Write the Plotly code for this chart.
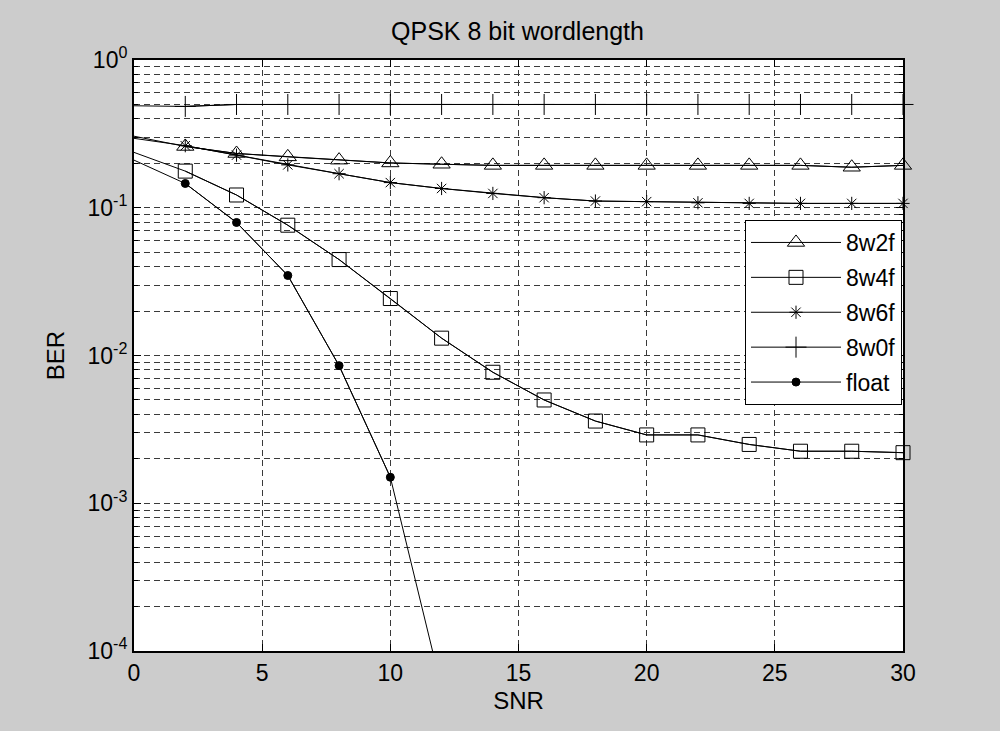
import plotly.graph_objects as go

snr = [0, 2, 4, 6, 8, 10, 12, 14, 16, 18, 20, 22, 24, 26, 28, 30]
ber_8w2f = [0.305, 0.26, 0.233, 0.221, 0.21, 0.201, 0.197, 0.1935, 0.1935, 0.1935,
            0.1935, 0.1935, 0.1935, 0.1935, 0.188, 0.1935]
ber_8w4f = [0.237, 0.177, 0.122, 0.0762, 0.0446, 0.0243, 0.0131, 0.0077, 0.0050,
            0.0036, 0.0029, 0.0029, 0.0025, 0.00225, 0.00225, 0.0022]
ber_8w6f = [0.295, 0.263, 0.227, 0.195, 0.17, 0.148, 0.135, 0.125, 0.117, 0.111,
            0.11, 0.108, 0.107, 0.107, 0.107, 0.107]
ber_8w0f = [0.49, 0.485, 0.5, 0.5, 0.5, 0.5, 0.5, 0.5, 0.5, 0.5, 0.5, 0.5, 0.5,
            0.5, 0.5, 0.5]
snr_float = [0, 2, 4, 6, 8, 10, 12]
ber_float = [0.21, 0.146, 0.0795, 0.0348, 0.00854, 0.0015, 5.6e-5]

y_tickvals = [1, 0.1, 0.01, 0.001, 0.0001]
y_ticktext = ["10<sup>0</sup>", "10<sup>-1</sup>", "10<sup>-2</sup>",
              "10<sup>-3</sup>", "10<sup>-4</sup>"]
x_tickvals = [0, 5, 10, 15, 20, 25, 30]

FONT = "Liberation Sans, Arial, sans-serif"
FS = 23

series = [
    ("8w2f", snr, ber_8w2f, "triangle-up-open", 15, "black"),
    ("8w4f", snr, ber_8w4f, "square-open", 14, "black"),
    ("8w6f", snr, ber_8w6f, "asterisk-open", 11, "black"),
    ("8w0f", snr, ber_8w0f, "cross-thin-open", 15, "black"),
    ("float", snr_float, ber_float, "circle", 8, "black"),
]

fig = go.Figure()
for name, xs, ys, sym, size, col in series:
    fig.add_trace(go.Scatter(
        x=xs, y=ys, mode="lines", line=dict(color="black", width=1),
        showlegend=False, hoverinfo="skip", legendgroup=name))
    mx = xs[1:]
    my = ys[1:]
    if name == "float":
        mx = [x for x, y in zip(mx, my) if y >= 1e-4]
        my = [y for y in my if y >= 1e-4]
    fig.add_trace(go.Scatter(
        x=mx, y=my, mode="lines+markers", name=name, legendgroup=name,
        line=dict(color="black", width=1),
        marker=dict(symbol=sym, size=size, color=col,
                    line=dict(color="black", width=1)),
        cliponaxis=False))

grid_common = dict(showgrid=True, gridcolor="#3a3a3a", gridwidth=1,
                   griddash="6px,4px")

fig.update_layout(
    width=1000, height=731,
    paper_bgcolor="#cccccc", plot_bgcolor="white",
    margin=dict(l=134, r=97, t=60, b=80),
    font=dict(family=FONT, size=FS, color="black"),
    title=dict(text="QPSK 8 bit wordlength", x=0.5175, xanchor="center",
               y=1 - 31 / 731, yanchor="middle",
               font=dict(family=FONT, size=25, color="black")),
    xaxis=dict(range=[0, 30], tickvals=x_tickvals, ticks="inside", ticklen=7,
               tickcolor="black", showline=True, linecolor="black", linewidth=2,
               mirror="allticks", zeroline=False,
               tickfont=dict(size=FS),
               title=dict(text="SNR", standoff=8, font=dict(size=24)),
               **grid_common),
    yaxis=dict(type="log", range=[-4, 0], tickvals=y_tickvals,
               ticktext=y_ticktext, ticks="inside", ticklen=7,
               tickcolor="black", showline=True, linecolor="black", linewidth=2,
               mirror="allticks", zeroline=False,
               tickfont=dict(size=FS),
               title=dict(text="BER", standoff=16, font=dict(size=24)),
               minor=dict(ticks="inside", ticklen=4, tickcolor="black",
                          showgrid=True, gridcolor="#3a3a3a", gridwidth=1,
                          griddash="6px,4px", dtick="D1"),
               **grid_common),
    legend=dict(x=1 - 1 / 769, xanchor="right", y=1 - 160 / 591, yanchor="top",
                bgcolor="white", bordercolor="black", borderwidth=1,
                font=dict(family=FONT, size=FS), itemwidth=90,
                tracegroupgap=2),
)

fig.write_html("out.html")
